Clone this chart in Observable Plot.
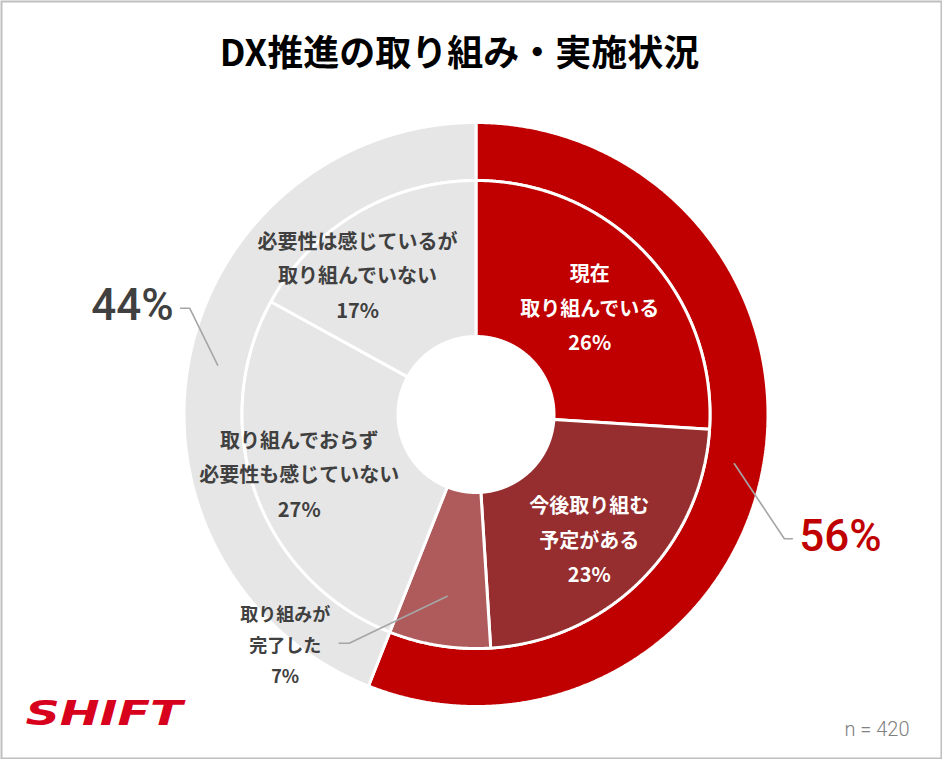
<!DOCTYPE html>
<html><head><meta charset="utf-8">
<script src="https://cdn.jsdelivr.net/npm/d3@7"></script>
<script src="https://cdn.jsdelivr.net/npm/@observablehq/plot@0.6"></script>
<style>body{margin:0;background:#fff}#chart svg{display:block}</style>
</head><body><div id="chart"></div>
<script>
// ---- data ----
const title = "DX推進の取り組み・実施状況";
const outerLabels = ["取り組んでいる（計）", "取り組んでいない（計）"];
const outerValues = [56, 44];
const innerLabels = ["現在\n取り組んでいる", "今後取り組む\n予定がある", "取り組みが\n完了した", "取り組んでおらず\n必要性も感じていない", "必要性は感じているが\n取り組んでいない"];
const innerValues = [26, 23, 7, 27, 17];
const sampleSize = 420;
const brand = "SHIFT";

// ---- layout / style ----
const W = 942, H = 759, CX = 475.5, CY = 414;
const outerR = [234, 292], innerR = [78, 234];
const outerColors = ["#C00000", "#E6E6E6"];
const outerTextColors = ["#C00000", "#404040"];
const innerColors = ["#C00000", "#962D2E", "#AF5B5B", "#E6E6E6", "#E6E6E6"];
const innerTextColors = ["#fff", "#fff", "#404040", "#404040", "#404040"];
const innerLabelOffset = [[0, -3], [3, 12], null, [-30, 4], [-39, -8]];
const outerLeader = [{elbow: [50, 75], run: 8, side: 1}, {elbow: [-28, -57], run: -9, side: -1}];
const innerLeader = {index: 2, rFrac: 1.18, elbow: [-98, 47], run: -10};

function ring(values, labels, colors, r0, r1, ring) {
  const total = d3.sum(values);
  let acc = 0;
  const pts = [], segs = [];
  values.forEach((v, i) => {
    const a0 = acc / total * 2 * Math.PI; acc += v;
    const a1 = acc / total * 2 * Math.PI;
    const n = Math.max(8, Math.ceil((a1 - a0) / (Math.PI / 720)));
    const poly = [];
    for (let k = 0; k <= n; k++) { const a = a0 + (a1 - a0) * k / n; poly.push([r1 * Math.sin(a), -r1 * Math.cos(a)]); }
    for (let k = n; k >= 0; k--) { const a = a0 + (a1 - a0) * k / n; poly.push([r0 * Math.sin(a), -r0 * Math.cos(a)]); }
    poly.push(poly[0]);
    const id = ring + i;
    poly.forEach(([x, y]) => pts.push({id, x, y, color: colors[i]}));
    const am = (a0 + a1) / 2, rm = (r0 + r1) / 2;
    segs.push({i, label: labels[i], value: v, am, rm, cx: rm * Math.sin(am), cy: -rm * Math.cos(am)});
  });
  return {pts, segs};
}

const outer = ring(outerValues, outerLabels, outerColors, outerR[0], outerR[1], "o");
const inner = ring(innerValues, innerLabels, innerColors, innerR[0], innerR[1], "i");

// leader lines
const leaderPts = [];
const outerValueLabels = [];
outer.segs.forEach((s, i) => {
  const L = outerLeader[i];
  const p0 = [s.cx, s.cy], p1 = [p0[0] + L.elbow[0], p0[1] + L.elbow[1]], p2 = [p1[0] + L.run, p1[1]];
  [p0, p1, p2].forEach(p => leaderPts.push({id: "o" + i, x: p[0], y: p[1]}));
  outerValueLabels.push({x: p2[0] + L.side * 7, y: p2[1] - 2, text: s.value + "%", side: L.side, color: outerTextColors[i]});
});
const sI = inner.segs[innerLeader.index];
const q0 = [sI.rm * innerLeader.rFrac * Math.sin(sI.am), -sI.rm * innerLeader.rFrac * Math.cos(sI.am)];
const q1 = [q0[0] + innerLeader.elbow[0], q0[1] + innerLeader.elbow[1]];
const q2 = [q1[0] + innerLeader.run, q1[1]];
[q0, q1, q2].forEach(p => leaderPts.push({id: "i", x: p[0], y: p[1]}));

const innerText = inner.segs.map(s => {
  const off = innerLabelOffset[s.i];
  const pos = off ? [s.cx + off[0], s.cy + off[1]] : [q2[0] - 54, q2[1] - 1];
  return {x: pos[0], y: pos[1], text: s.label + "\n" + s.value + "%", color: innerTextColors[s.i], small: !off};
});

const font = "'Noto Sans CJK JP', 'Noto Sans', sans-serif";
const outerTextOpts = {x: "x", y: "y", text: "text", fill: "color", fontSize: 44, fontWeight: 500, lineAnchor: "middle", fontFamily: "Roboto, sans-serif"};
const chart = Plot.plot({
  width: W, height: H, margin: 0,
  x: {domain: [-CX, W - CX], range: [0, W], axis: null},
  y: {domain: [-CY, H - CY], range: [0, H], axis: null},
  color: {type: "identity"},
  style: {fontFamily: font, background: "#fff"},
  marks: [
    Plot.line(outer.pts, {x: "x", y: "y", z: "id", fill: "color", stroke: "#fff", strokeWidth: 3, strokeLinejoin: "miter"}),
    Plot.line(inner.pts, {x: "x", y: "y", z: "id", fill: "color", stroke: "#fff", strokeWidth: 3, strokeLinejoin: "miter"}),
    Plot.line(leaderPts, {x: "x", y: "y", z: "id", stroke: "#A6A6A6", strokeWidth: 1.6}),
    Plot.text(innerText.filter(d => !d.small), {x: "x", y: "y", text: "text", fill: "color", fontSize: 20, fontWeight: "bold", lineHeight: 1.72, lineAnchor: "middle"}),
    Plot.text(innerText.filter(d => d.small), {x: "x", y: "y", text: "text", fill: "color", fontSize: 18, fontWeight: "bold", lineHeight: 1.72, lineAnchor: "middle"}),
    Plot.text(outerValueLabels.filter(d => d.side > 0), {...outerTextOpts, textAnchor: "start"}),
    Plot.text(outerValueLabels.filter(d => d.side < 0), {...outerTextOpts, textAnchor: "end"}),
    Plot.text([title], {x: 459 - CX, y: 54 - CY, text: d => d, fontSize: 36, fontWeight: "bold", fill: "#000", lineAnchor: "middle"}),
    Plot.text(["n = " + sampleSize], {x: 909 - CX, y: 729 - CY, text: d => d, fontSize: 20, fill: "#808080", textAnchor: "end", lineAnchor: "middle", fontFamily: "Roboto, sans-serif", fontWeight: 300}),
    Plot.text([brand], {x: 25 - CX, y: 714 - CY, text: d => d, fontSize: 34, fontWeight: 900, fontStyle: "italic", fill: "#D7001D", textAnchor: "start", lineAnchor: "middle", fontFamily: "'DejaVu Sans', sans-serif", className: "brand"}),
    Plot.frame({stroke: "#BFBFBF", strokeWidth: 2, inset: 1})
  ]
});
document.getElementById("chart").appendChild(chart);
d3.select(chart).selectAll(".brand text").attr("textLength", 157).attr("lengthAdjust", "spacingAndGlyphs");
</script>
</body></html>
